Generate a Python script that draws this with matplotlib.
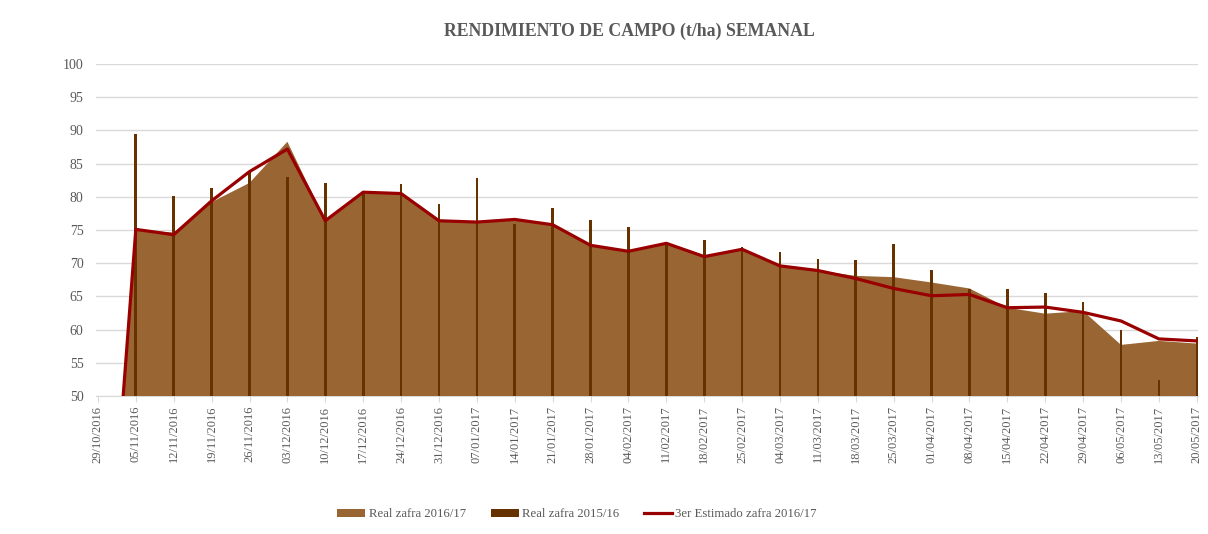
import matplotlib
matplotlib.use("Agg")
import matplotlib.pyplot as plt
from matplotlib.patches import Patch
from matplotlib.lines import Line2D
import numpy as np
import pandas as pd

plt.rcParams['font.family'] = ['Liberation Serif', 'DejaVu Serif']

# weekly categories
semanas = list(pd.date_range('2016-10-29', periods=30, freq='7D').strftime('%d/%m/%Y'))

real_2016_17 = [0, 75.1, 74.6, 79.2, 82.1, 88.3, 76.4, 80.6, 80.5, 76.4,
                76.2, 76.6, 75.8, 72.7, 71.8, 73.0, 71.0, 72.1, 69.6, 68.9,
                68.1, 67.9, 67.1, 66.2, 63.3, 62.4, 62.8, 57.7, 58.3, 57.9]
real_2015_16 = [0, 89.5, 80.2, 81.4, 83.9, 83.0, 82.1, 80.5, 81.9, 78.9,
                82.8, 75.9, 78.3, 76.5, 75.5, 72.8, 73.5, 72.5, 71.7, 70.7,
                70.5, 72.9, 69.0, 66.1, 66.1, 65.5, 64.2, 59.9, 52.4, 58.9]
estimado_3 = [0, 75.1, 74.3, 79.4, 83.8, 87.2, 76.4, 80.7, 80.5, 76.4,
              76.2, 76.6, 75.8, 72.7, 71.8, 73.0, 71.0, 72.1, 69.6, 68.9,
              67.7, 66.2, 65.1, 65.3, 63.3, 63.4, 62.6, 61.3, 58.6, 58.3]

c_area = '#996633'
c_bar = '#663300'
c_line = '#990000'
c_text = '#595959'
c_grid = '#d9d9d9'

fig = plt.figure(figsize=(12.08, 5.34), dpi=100)
ax = fig.add_axes([0.0795, 0.2584, 0.9122, 0.6216])

x = np.arange(len(semanas))
ax.fill_between(x, real_2016_17, 0, color=c_area, lw=0, zorder=2)
ax.bar(x, real_2015_16, width=0.07, color=c_bar, zorder=3)
ax.plot(x, estimado_3, color=c_line, lw=2.3, zorder=4, solid_joinstyle='round')

ax.set_ylim(50, 100)
ax.set_yticks(np.arange(50, 101, 5))
ax.set_xlim(-0.05, len(semanas) - 0.97)
ax.set_xticks(x)
ax.set_xticklabels(semanas, rotation=90, fontsize=9, color=c_text)
ax.tick_params(axis='y', length=0, pad=9, labelsize=10, labelcolor=c_text)
ax.tick_params(axis='x', length=4, color=c_grid, pad=3)

ax.grid(axis='y', color=c_grid, lw=1, zorder=0)
ax.set_axisbelow(True)
for s in ['top', 'right', 'left']:
    ax.spines[s].set_visible(False)
ax.spines['bottom'].set_color(c_grid)
ax.spines['bottom'].set_zorder(1)

fig.text(0.521, 0.942, 'RENDIMIENTO DE CAMPO (t/ha) SEMANAL', ha='center', va='center',
         fontsize=12.8, fontweight='bold', color=c_text)

handles = [Patch(facecolor=c_area, edgecolor='none'),
           Patch(facecolor=c_bar, edgecolor='none'),
           Line2D([0], [0], color=c_line, lw=2.3)]
labels = ['Real zafra 2016/17', 'Real zafra 2015/16', '3er Estimado zafra 2016/17']
leg = fig.legend(handles, labels, loc='center', bbox_to_anchor=(0.4777, 0.037), ncol=3,
                 frameon=False, fontsize=9.2, handlelength=2.2, handleheight=0.6,
                 handletextpad=0.25, columnspacing=1.95)
for t in leg.get_texts():
    t.set_color(c_text)

fig.savefig('out.png', dpi=100)
